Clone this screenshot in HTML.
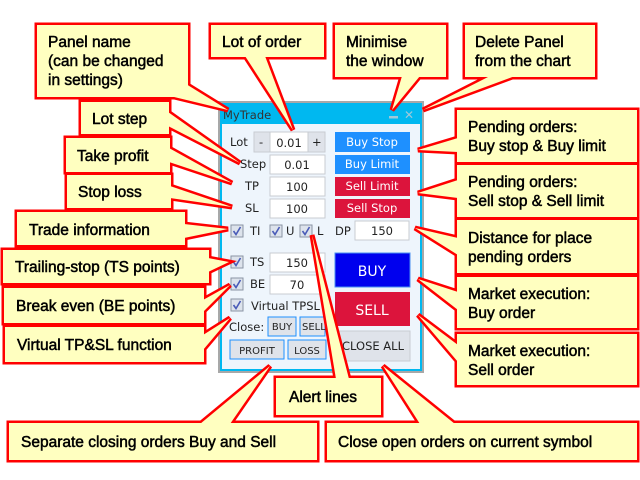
<!DOCTYPE html>
<html><head><meta charset="utf-8"><style>
html,body{margin:0;padding:0;background:#fff;}
svg{display:block;}
.c text{font-family:"Liberation Sans",Arial,sans-serif;font-size:15.5px;fill:#000;stroke:#000;stroke-width:0.5;}
.p text{font-family:"DejaVu Sans",sans-serif;font-size:11.5px;fill:#222;}
.p text.w{fill:#fff;}
</style></head><body>
<svg width="640" height="480" viewBox="0 0 640 480" xmlns="http://www.w3.org/2000/svg">
<defs>
<g id="chk"><rect x="0" y="0" width="12" height="12" fill="#dde3ec" stroke="#8a94a4" stroke-width="1"/><path d="M2.5 6 L5 9.5 L9.5 2" fill="none" stroke="#4a5cb8" stroke-width="1.6"/></g>
</defs>
<!-- panel -->
<g class="p">
<rect x="218" y="101" width="206" height="272" fill="#a8a8a8"/>
<rect x="220" y="103" width="202" height="268" fill="#00b8f0"/>
<rect x="222" y="124" width="198" height="245" fill="#eef5fc"/>
<text x="223" y="119" font-size="12" style="fill:#333">MyTrade</text>
<rect x="389" y="116" width="9" height="2.5" fill="#a0c8d8"/>
<text x="404" y="119" style="fill:#a0c8d8;font-size:12px">✕</text>
<text x="230" y="146">Lot</text>
<rect x="254" y="132" width="71" height="20" fill="#fff" stroke="#c8ccd2"/>
<rect x="254" y="132" width="16" height="20" fill="#dfe3ea" stroke="#c8ccd2"/>
<rect x="308" y="132" width="17" height="20" fill="#dfe3ea" stroke="#c8ccd2"/>
<text x="259" y="146">-</text><text x="312" y="146">+</text>
<text x="289" y="147" text-anchor="middle">0.01</text>
<text x="240" y="168">Step</text><text x="245" y="190">TP</text><text x="245" y="212">SL</text>
<rect x="270" y="155" width="55" height="19" fill="#fff" stroke="#c8ccd2"/><text x="297" y="169" text-anchor="middle">0.01</text>
<rect x="270" y="177" width="55" height="19" fill="#fff" stroke="#c8ccd2"/><text x="297" y="191" text-anchor="middle">100</text>
<rect x="270" y="199" width="55" height="19" fill="#fff" stroke="#c8ccd2"/><text x="297" y="213" text-anchor="middle">100</text>
<rect x="335" y="132" width="75" height="20" fill="#1e90ff"/><text class="w" x="372" y="146" text-anchor="middle">Buy Stop</text>
<rect x="335" y="155" width="75" height="19" fill="#1e90ff"/><text class="w" x="372" y="168" text-anchor="middle">Buy Limit</text>
<rect x="335" y="177" width="75" height="19" fill="#dc143c"/><text class="w" x="372" y="190" text-anchor="middle">Sell Limit</text>
<rect x="335" y="199" width="75" height="19" fill="#dc143c"/><text class="w" x="372" y="212" text-anchor="middle">Sell Stop</text>
<use href="#chk" x="231" y="225"/><text x="250" y="235">TI</text>
<use href="#chk" x="270" y="225"/><text x="286" y="235">U</text>
<use href="#chk" x="300" y="225"/><text x="317" y="235">L</text>
<text x="335" y="235">DP</text>
<rect x="355" y="221" width="54" height="19" fill="#fff" stroke="#c8ccd2"/><text x="382" y="235" text-anchor="middle">150</text>
<use href="#chk" x="231" y="256"/><text x="250" y="266">TS</text>
<use href="#chk" x="231" y="278"/><text x="250" y="288">BE</text>
<rect x="270" y="253" width="55" height="19" fill="#fff" stroke="#c8ccd2"/><text x="297" y="267" text-anchor="middle">150</text>
<rect x="270" y="275" width="55" height="19" fill="#fff" stroke="#c8ccd2"/><text x="297" y="289" text-anchor="middle">70</text>
<rect x="335" y="253" width="75" height="34" fill="#0000ee" stroke="#4a8ff0"/><text class="w" x="372" y="276" text-anchor="middle" style="font-size:14px">BUY</text>
<rect x="335" y="292" width="75" height="34" fill="#dc143c"/><text class="w" x="372" y="315" text-anchor="middle" style="font-size:14px">SELL</text>
<use href="#chk" x="231" y="299"/><text x="251" y="310">Virtual TPSL</text>
<text x="229" y="331">Close:</text>
<rect x="268" y="317" width="28" height="19" fill="#dfe3ea" stroke="#1e90ff"/><text x="282" y="330" text-anchor="middle" style="font-size:10px">BUY</text>
<rect x="300" y="317" width="25" height="19" fill="#dfe3ea" stroke="#1e90ff"/><text x="302" y="330" style="font-size:10px">SELL</text>
<rect x="230" y="340" width="54" height="19" fill="#dfe3ea" stroke="#1e90ff"/><text x="257" y="354" text-anchor="middle" style="font-size:10px">PROFIT</text>
<rect x="288" y="340" width="38" height="19" fill="#dfe3ea" stroke="#1e90ff"/><text x="307" y="354" text-anchor="middle" style="font-size:10px">LOSS</text>
<rect x="336" y="331" width="74" height="30" fill="#dfe3ea" stroke="#c8ccd2"/><text x="373" y="350" text-anchor="middle">CLOSE ALL</text>
</g>
<!-- callouts: stroke layer -->
<g stroke="#ff0000" stroke-width="5" fill="#ff0000" stroke-linejoin="miter">
<rect x="37" y="25" width="151" height="72"/><polygon points="170,96 186,84 228,110"/>
<rect x="211" y="25" width="113" height="32"/><polygon points="245,56 265,56 293,130"/>
<rect x="335" y="25" width="111" height="52"/><polygon points="402,76 420,76 392,110"/>
<rect x="465" y="25" width="130" height="52"/><polygon points="490,76 515,76 423,110"/>
<rect x="81" y="102" width="88" height="32"/><polygon points="168,112 168,126 240,163"/>
<rect x="66" y="138" width="104" height="34"/><polygon points="169,148 169,162 232,183"/>
<rect x="67" y="175" width="104" height="33"/><polygon points="170,186 170,198 232,207"/>
<rect x="17" y="212" width="168" height="33"/><polygon points="184,224 184,238 228,229"/>
<rect x="3" y="250" width="206" height="33"/><polygon points="208,258 208,272 229,262"/>
<rect x="4" y="288" width="200" height="35"/><polygon points="203,300 203,312 230,285"/>
<rect x="5" y="327" width="199" height="35"/><polygon points="203,335 203,350 230,318"/>
<rect x="457" y="110" width="180" height="52"/><polygon points="458,138 458,152 418,150"/>
<rect x="457" y="165" width="180" height="52"/><polygon points="458,180 458,198 418,193"/>
<rect x="457" y="220" width="180" height="53"/><polygon points="458,238 458,255 415,228"/>
<rect x="457" y="277" width="180" height="51"/><polygon points="458,292 458,310 418,279"/>
<rect x="457" y="334" width="180" height="51"/><polygon points="458,345 458,362 418,315"/>
<rect x="276" y="378" width="105" height="37"/><polygon points="336,379 349,379 312,235"/>
<rect x="9" y="423" width="308" height="37"/><polygon points="200,424 230,424 270,366"/>
<rect x="327" y="423" width="310" height="37"/><polygon points="420,424 455,424 383,366"/>
</g>
<g fill="#ffffc0">
<rect x="37" y="25" width="151" height="72"/><polygon points="170,96 186,84 228,110"/>
<rect x="211" y="25" width="113" height="32"/><polygon points="245,56 265,56 293,130"/>
<rect x="335" y="25" width="111" height="52"/><polygon points="402,76 420,76 392,110"/>
<rect x="465" y="25" width="130" height="52"/><polygon points="490,76 515,76 423,110"/>
<rect x="81" y="102" width="88" height="32"/><polygon points="168,112 168,126 240,163"/>
<rect x="66" y="138" width="104" height="34"/><polygon points="169,148 169,162 232,183"/>
<rect x="67" y="175" width="104" height="33"/><polygon points="170,186 170,198 232,207"/>
<rect x="17" y="212" width="168" height="33"/><polygon points="184,224 184,238 228,229"/>
<rect x="3" y="250" width="206" height="33"/><polygon points="208,258 208,272 229,262"/>
<rect x="4" y="288" width="200" height="35"/><polygon points="203,300 203,312 230,285"/>
<rect x="5" y="327" width="199" height="35"/><polygon points="203,335 203,350 230,318"/>
<rect x="457" y="110" width="180" height="52"/><polygon points="458,138 458,152 418,150"/>
<rect x="457" y="165" width="180" height="52"/><polygon points="458,180 458,198 418,193"/>
<rect x="457" y="220" width="180" height="53"/><polygon points="458,238 458,255 415,228"/>
<rect x="457" y="277" width="180" height="51"/><polygon points="458,292 458,310 418,279"/>
<rect x="457" y="334" width="180" height="51"/><polygon points="458,345 458,362 418,315"/>
<rect x="276" y="378" width="105" height="37"/><polygon points="336,379 349,379 312,235"/>
<rect x="9" y="423" width="308" height="37"/><polygon points="200,424 230,424 270,366"/>
<rect x="327" y="423" width="310" height="37"/><polygon points="420,424 455,424 383,366"/>
</g>
<g class="c">
<text x="48" y="47">Panel name</text><text x="48" y="66">(can be changed</text><text x="48" y="85">in settings)</text>
<text x="222" y="47">Lot of order</text>
<text x="346" y="47">Minimise</text><text x="346" y="66">the window</text>
<text x="475" y="47">Delete Panel</text><text x="475" y="66">from the chart</text>
<text x="92" y="124">Lot step</text>
<text x="77" y="161">Take profit</text>
<text x="78" y="197">Stop loss</text>
<text x="29" y="235">Trade information</text>
<text x="15" y="272">Trailing-stop (TS points)</text>
<text x="16" y="311">Break even (BE points)</text>
<text x="17" y="350">Virtual TP&amp;SL function</text>
<text x="468" y="132">Pending orders:</text><text x="468" y="151">Buy stop &amp; Buy limit</text>
<text x="468" y="187">Pending orders:</text><text x="468" y="206">Sell stop &amp; Sell limit</text>
<text x="468" y="243">Distance for place</text><text x="468" y="262">pending orders</text>
<text x="468" y="299">Market execution:</text><text x="468" y="318">Buy order</text>
<text x="468" y="356">Market execution:</text><text x="468" y="375">Sell order</text>
<text x="289" y="402">Alert lines</text>
<text x="21" y="447">Separate closing orders Buy and Sell</text>
<text x="338" y="447">Close open orders on current symbol</text>
</g>
</svg>
</body></html>
